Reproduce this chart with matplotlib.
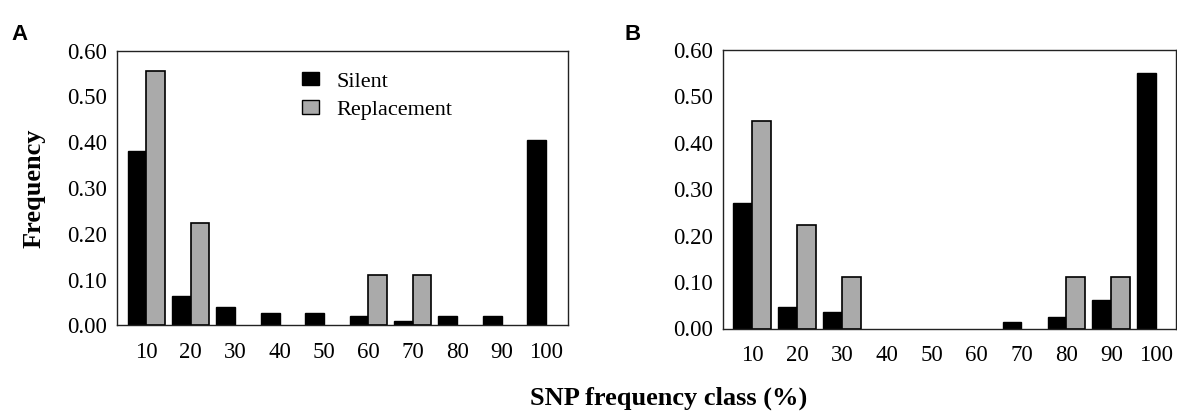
import matplotlib
matplotlib.use("Agg")
import matplotlib.pyplot as plt
import numpy as np
from matplotlib.patches import Patch

categories = ["10", "20", "30", "40", "50", "60", "70", "80", "90", "100"]
a_silent = [0.380, 0.063, 0.039, 0.027, 0.027, 0.020, 0.009, 0.020, 0.020, 0.405]
a_replacement = [0.556, 0.223, 0, 0, 0, 0.110, 0.110, 0, 0, 0]
b_silent = [0.270, 0.046, 0.035, 0, 0, 0, 0.014, 0.025, 0.061, 0.550]
b_replacement = [0.446, 0.222, 0.110, 0, 0, 0, 0, 0.110, 0.110, 0]
yticks = [0.0, 0.1, 0.2, 0.3, 0.4, 0.5, 0.6]

W, H = 1177, 412
fig = plt.figure(figsize=(W / 100, H / 100), dpi=100)
serif = "Liberation Serif"
BLACK = "#000000"
GRAY = "#aaaaaa"
bw = 0.42
TFS = 16.5


def px_axes(l, t, r, b):
    return fig.add_axes([l / W, 1 - b / H, (r - l) / W, (b - t) / H])


def draw(ax, silent, repl, xlim):
    x = np.arange(len(categories))
    s = np.array(silent)
    r = np.array(repl)
    ms = s > 0
    mr = r > 0
    ax.bar(x[ms] - bw / 2, s[ms], width=bw, color=BLACK, edgecolor=BLACK, linewidth=1.0)
    ax.bar(x[mr] + bw / 2, r[mr], width=bw, color=GRAY, edgecolor=BLACK, linewidth=1.2)
    ax.set_xlim(*xlim)
    ax.set_ylim(0, 0.6)
    ax.set_yticks(yticks)
    ax.set_yticklabels([f"{v:.2f}" for v in yticks], fontfamily=serif, fontsize=TFS)
    ax.set_xticks(x)
    ax.set_xticklabels(categories, fontfamily=serif, fontsize=TFS)
    ax.tick_params(axis="both", length=0)
    ax.tick_params(axis="x", pad=12)
    ax.tick_params(axis="y", pad=7)
    for sp in ax.spines.values():
        sp.set_linewidth(1.0)
        sp.set_color("#222222")


axA = px_axes(117, 50.7, 567.7, 325.3)
draw(axA, a_silent, a_replacement, (-0.66, 9.49))
axA.set_ylabel("Frequency", fontfamily=serif, fontsize=19, fontweight="bold", labelpad=16)
handles = [Patch(facecolor=BLACK, edgecolor=BLACK, label="Silent"),
           Patch(facecolor=GRAY, edgecolor=BLACK, label="Replacement")]
axA.legend(handles=handles, loc="upper left", bbox_to_anchor=(0.39, 0.955),
           borderaxespad=0, frameon=False, prop={"family": serif, "size": 16},
           handlelength=0.8, handleheight=0.55, handletextpad=0.75, labelspacing=0.4)

axB = px_axes(722.9, 50.0, 1175.5, 328.5)
draw(axB, b_silent, b_replacement, (-0.65, 9.43))

fig.text(11 / W, 1 - 40 / H, "A", fontfamily="Liberation Sans", fontweight="bold",
         fontsize=16, va="baseline")
fig.text(625 / W, 1 - 40 / H, "B", fontfamily="Liberation Sans", fontweight="bold",
         fontsize=16, va="baseline")
fig.text(669 / W, 1 - 398 / H, "SNP frequency class (%)", fontfamily=serif,
         fontweight="bold", fontsize=19, ha="center", va="center")

fig.savefig("out.png", dpi=100)
